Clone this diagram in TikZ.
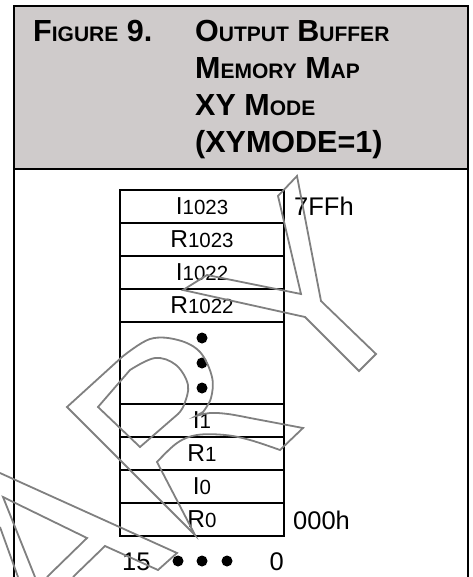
\documentclass[tikz,border=0pt]{standalone}
\usepackage{fontspec}
\setmainfont{Liberation Sans}
\definecolor{hdrgray}{RGB}{207,203,203}
\definecolor{wmgray}{RGB}{128,128,128}
\newcommand\bigsz{\fontsize{30.5}{36}\selectfont}
\newcommand\smsz{\fontsize{21}{36}\selectfont}
\newcommand\fakesc[2]{{\bigsz #1}{\smsz #2}}
\newcommand\cellsub[2]{{\fontsize{24.5}{28}\selectfont #1}{\fontsize{20.5}{24}\selectfont #2}}
\begin{document}
\begin{tikzpicture}[x=1pt,y=-1pt,
  frame/.style={line width=2pt},
  cell/.style={draw, line width=1.8pt, minimum width=164pt, minimum height=33pt, inner sep=0pt},
  title/.style={anchor=base west, inner sep=0pt, font=\bfseries},
  lbl/.style={inner sep=0pt, font=\fontsize{25.5}{30}\selectfont},
  bdot/.style={circle, fill, inner sep=0pt, minimum size=11pt},
  wm/.style={draw=wmgray, line width=1.8pt, line join=miter}]
\useasboundingbox (0,0) rectangle (472,577);
% frame and header
\draw[frame, fill=hdrgray] (14,6) rectangle (468,169);
\draw[frame] (14,169) -- (14,577);
\draw[frame] (468,169) -- (468,577);
\node[title] (t0) at (33,42) {\fakesc{F}{IGURE}{\bigsz\ 9.}};
\node[title] (t1) at (195,42) {\fakesc{O}{UTPUT}{\bigsz\ }\fakesc{B}{UFFER}};
\node[title] (t2) at (195,79) {\fakesc{M}{EMORY}{\bigsz\ }\fakesc{M}{AP}};
\node[title] (t3) at (195,116) {{\bigsz XY }\fakesc{M}{ODE}};
\node[title] (t4) at (195,153) {{\bigsz (XYMODE=1)}};
% memory cells
\node[cell] (i1023) at (202,206.5) {\cellsub{I}{1023}};
\node[cell] (r1023) at (202,239.5) {\cellsub{R}{1023}};
\node[cell] (i1022) at (202,272.5) {\cellsub{I}{1022}};
\node[cell] (r1022) at (202,305.5) {\cellsub{R}{1022}};
\node[cell, minimum height=82pt] (cdots) at (202,363) {};
\node[cell] (i1) at (202,420.5) {\cellsub{I}{1}};
\node[cell] (r1) at (202,453.5) {\cellsub{R}{1}};
\node[cell] (i0) at (202,486.5) {\cellsub{I}{0}};
\node[cell] (r0) at (202,519.5) {\cellsub{R}{0}};
\node[bdot] (vd1) at (202,338) {};
\node[bdot] (vd2) at (202,363) {};
\node[bdot] (vd3) at (202,388) {};
% labels
\node[lbl, anchor=base west] (top) at (294,215) {7FFh};
\node[lbl, anchor=base west] (bot) at (293,529) {000h};
\node[lbl, anchor=base west] (b15) at (122,570) {15};
\node[lbl, anchor=base east] (b0) at (284,570) {0};
\node[bdot] (hd1) at (178,561) {};
\node[bdot] (hd2) at (202,561) {};
\node[bdot] (hd3) at (227,561) {};
% watermark outlines
\draw[wm] (297,176) -- (278,196) -- (301,294) -- (207,275) -- (183,290) -- (305,317)
  -- (359,371) -- (376,354) -- (321,301) -- cycle;
\draw[wm] (67,407) -- (122,357)
  -- plot[smooth, tension=0.6] coordinates {(122,357) (150,339) (178,340) (200,352) (212,377) (211,398) (203,412)}
  -- (196,416)
  -- plot[smooth, tension=0.6] coordinates {(196,416) (210,413) (228,414) (250,418)}
  -- (303,428) -- (280,450)
  -- plot[smooth, tension=0.6] coordinates {(280,450) (250,440) (225,435) (197,435) (177,443) (157,462)}
  -- (195,535) -- cycle;
\draw[wm] (98,407) -- (130,370)
  -- plot[smooth, tension=0.6] coordinates {(130,370) (155,358) (176,365) (188,385) (184,405) (178,414)}
  -- (140,447) -- cycle;
\draw[wm] (0,473) -- (177,553) -- (158,570) -- (105,546) -- (73,577);
\draw[wm] (35,577) -- (3,497) -- (87,538) -- (47,577);
\draw[wm] (0,527) -- (18,577);
\end{tikzpicture}
\end{document}
